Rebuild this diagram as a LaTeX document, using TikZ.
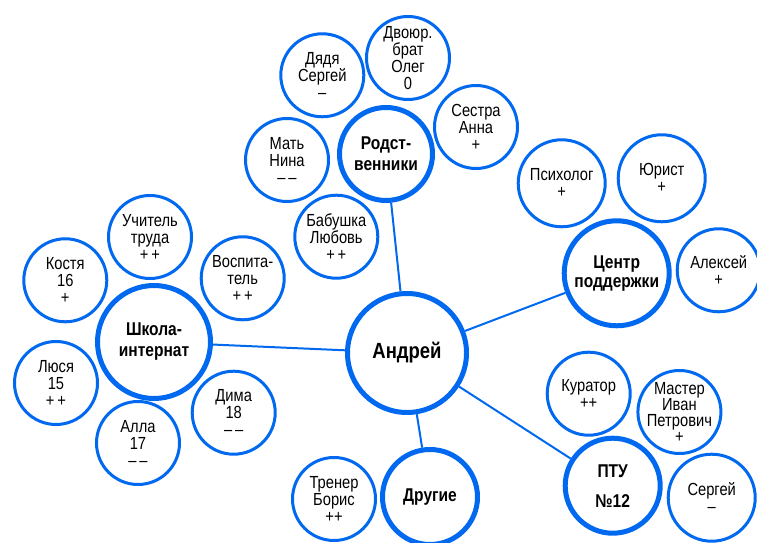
\documentclass[tikz,border=0pt]{standalone}
\usepackage{fontspec}
\setmainfont{Liberation Sans}[FakeStretch=0.84]
\usepackage{tikz}
\usetikzlibrary{arrows}
\definecolor{netblue}{RGB}{0,105,240}

\begin{document}
\begin{tikzpicture}[x=1pt,y=1pt,node distance=100pt,
	person/.style={draw=netblue,circle,line width=3pt,minimum size=83pt,inner sep=-6pt,align=center,font=\fontsize{17.5}{17}\selectfont},
	group/.style={draw=netblue,circle,line width=5pt,inner sep=0pt,align=center,font=\bfseries\fontsize{18.5}{21}\selectfont},
	link/.style={netblue,line width=2pt}]
				\useasboundingbox (0,0) rectangle (757,543);
				\node[group,minimum size=119pt,font=\bfseries\fontsize{22}{24}\selectfont] (andrej) at (407,190) {Андрей};

				\node[group,minimum size=113pt] (school) [left of=andrej, xshift=-153pt, yshift=11pt] {Школа-\\интернат};
				\node[group,minimum size=93pt] (family) [above of=andrej, xshift=-21pt, yshift=99pt] {Родст-\\венники};
				\node[group,minimum size=105pt,font=\bfseries\fontsize{18.5}{19}\selectfont] (centre) [above right of=andrej, xshift=139pt, yshift=9pt] {Центр\\поддержки};
				\node[group,minimum size=95pt,font=\bfseries\fontsize{18.5}{30}\selectfont] (ptu) [below right of=andrej, xshift=135pt, yshift=-62pt] {ПТУ\\№12};
				\node[group,minimum size=95pt] (others) [below of=andrej, xshift=23pt, yshift=-44pt] {Другие};

				\node[person] (uncle) [above left of=family, xshift=7pt, yshift=8pt] {Дядя\\Сергей\\–};
				\node[person] (cousin) [above of=family, xshift=22pt, yshift=-4pt] {Двоюр.\\брат\\Олег\\0};
				\node[person] (sister) [right of=family, xshift=-10pt, yshift=27pt] {Сестра\\Анна\\+};
				\node[person] (mother) [left of=family, xshift=1pt, yshift=-6pt] {Мать\\Нина\\–\,–};
				\node[person] (granny) [below left of=family, xshift=21pt, yshift=-12pt] {Бабушка\\Любовь\\+\,+};

				\node[person] (teacher) [above of=school, xshift=-4pt, yshift=5pt] {Учитель\\труда\\+\,+};
				\node[person] (kostya) [above left of=school, xshift=-18pt, yshift=-9pt] {Костя\\16\\+};
				\node[person] (tutor) [above right of=school, xshift=18pt, yshift=-7pt] {Воспита-\\тель\\+\,+};
				\node[person] (lyusya) [left of=school, xshift=2pt, yshift=-41pt] {Люся\\15\\+\,+};
				\node[person] (dima) [below right of=school, xshift=9pt] {Дима\\18\\–\,–};
				\node[person] (alla) [below of=school, xshift=-16pt, yshift=-1pt] {Алла\\17\\–\,–};

				\node[person,minimum size=87pt] (psych) [above of=centre, xshift=-55pt, yshift=-10pt] {Психолог\\+};
				\node[person,minimum size=87pt] (lawyer) [above of=centre, xshift=45pt, yshift=-5pt] {Юрист\\+};
				\node[person] (aleksej) [right of=centre, xshift=2pt, yshift=3pt] {Алексей\\+};

				\node[person] (curator) [above of=ptu, xshift=-24pt, yshift=-8pt] {Куратор\\++};
				\node[person,font=\fontsize{17.5}{16}\selectfont] (master) [above right of=ptu, xshift=-4pt, yshift=3pt] {Мастер\\Иван\\Петрович\\+};
				\node[person,minimum size=87pt] (sergej) [right of=ptu, xshift=-1pt, yshift=-12pt] {Сергей\\–};

				\node[person] (coach) [left of=others, xshift=4pt, yshift=-2pt] {Тренер\\Борис\\++};

				\draw[link]
				(andrej) edge (school)
				(andrej) edge (family)
				(andrej) edge (centre)
				(andrej) edge (ptu)
				(andrej) edge (others);
			\end{tikzpicture}
\end{document}
